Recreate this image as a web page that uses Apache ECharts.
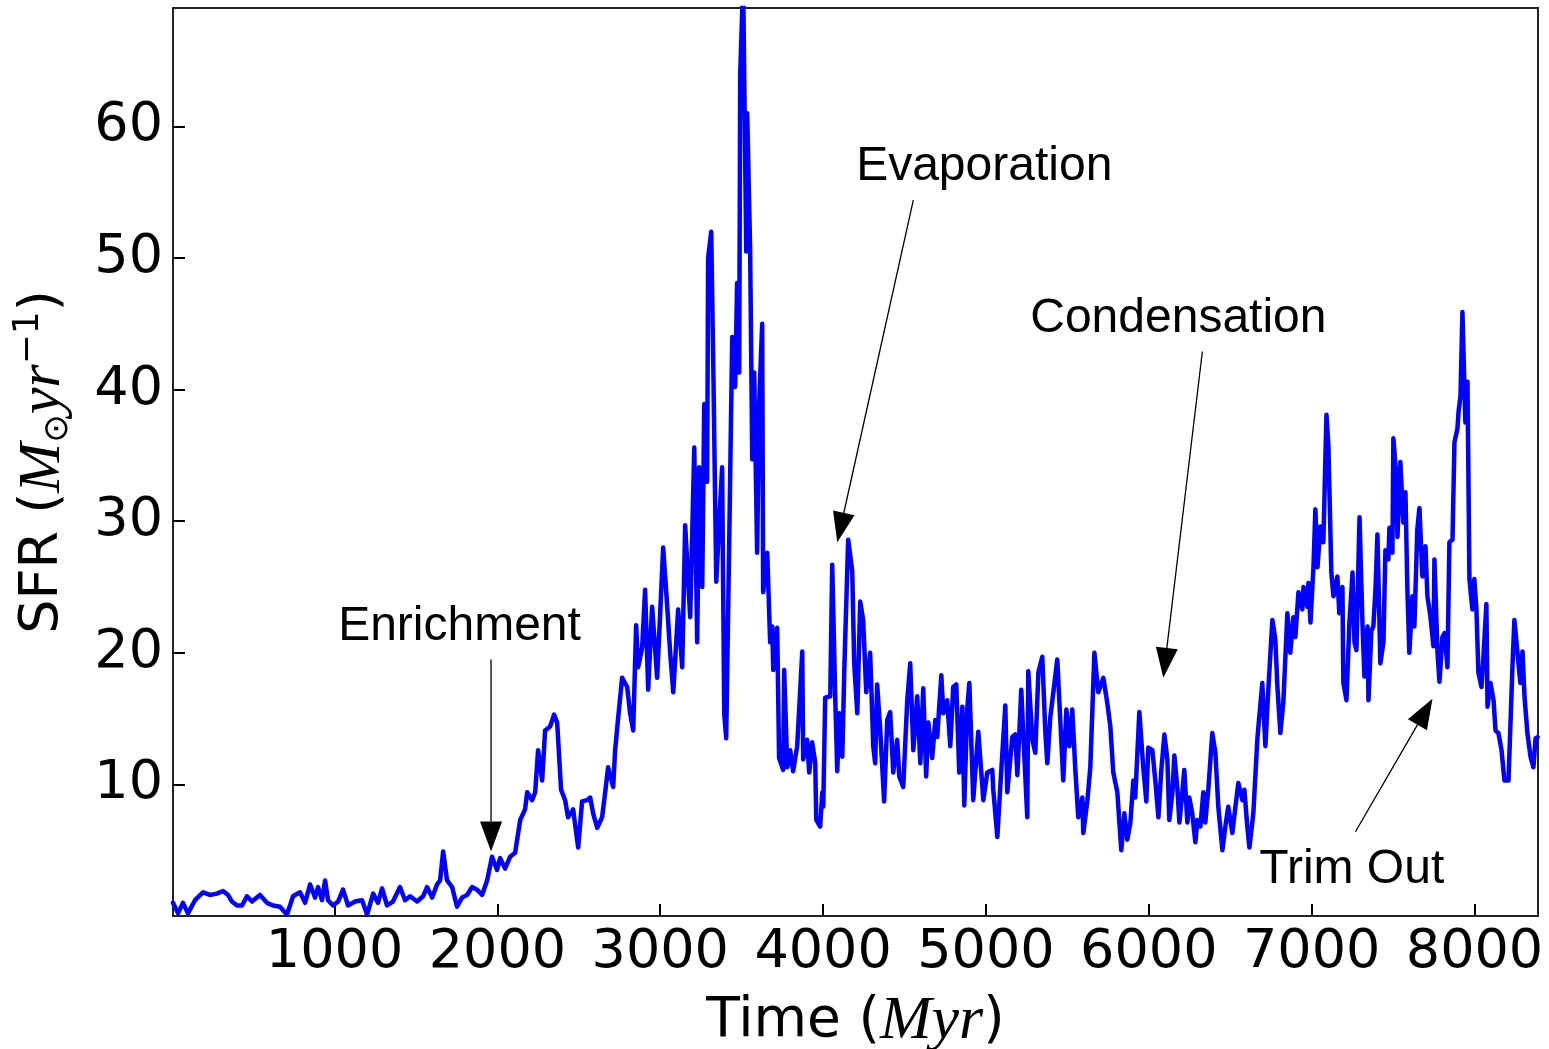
<!DOCTYPE html>
<html>
<head>
<meta charset="utf-8">
<script src="https://cdn.jsdelivr.net/npm/echarts@6/dist/echarts.min.js"></script>
<style>
html, body { margin: 0; padding: 0; background: #fff; }
#main { width: 1549px; height: 1049px; }
</style>
</head>
<body>
<div id="main"></div>
<script>
// 时间 (Myr)
var times = [8, 39, 69, 100, 143, 192, 235, 278, 315, 346, 370, 401, 432, 462, 493, 542, 585, 622, 665, 708,
  745, 788, 819, 850, 880, 899, 923, 942, 960, 991, 1022, 1052, 1083, 1126, 1169, 1200, 1237, 1267, 1292, 1322,
  1359, 1402, 1433, 1464, 1507, 1544, 1568, 1599, 1630, 1648, 1667, 1691, 1722, 1752, 1783, 1814, 1845, 1875, 1906, 1937,
  1967, 1998, 2017, 2047, 2078, 2109, 2140, 2170, 2183, 2213, 2232, 2250, 2275, 2293, 2324, 2348, 2367, 2391, 2416, 2434,
  2465, 2496, 2520, 2551, 2570, 2588, 2613, 2643, 2662, 2680, 2711, 2723, 2742, 2766, 2797, 2815, 2834, 2852, 2864, 2889,
  2907, 2926, 2950, 2981, 3000, 3018, 3043, 3061, 3080, 3110, 3135, 3153, 3184, 3209, 3227, 3239, 3258, 3270, 3288, 3294,
  3313, 3325, 3344, 3362, 3380, 3393, 3405, 3423, 3442, 3460, 3472, 3485, 3491, 3509, 3528, 3534, 3552, 3565, 3577, 3595,
  3608, 3626, 3632, 3657, 3675, 3688, 3694, 3718, 3730, 3755, 3761, 3780, 3798, 3816, 3841, 3853, 3872, 3878, 3902, 3915,
  3933, 3952, 3958, 3982, 3995, 4001, 4013, 4044, 4056, 4075, 4087, 4099, 4118, 4130, 4154, 4179, 4191, 4210, 4228, 4246,
  4265, 4289, 4308, 4320, 4332, 4351, 4375, 4394, 4412, 4431, 4455, 4468, 4492, 4517, 4535, 4554, 4578, 4597, 4615, 4633,
  4646, 4670, 4689, 4701, 4726, 4738, 4762, 4781, 4799, 4818, 4836, 4855, 4867, 4885, 4898, 4922, 4953, 4984, 5008, 5039,
  5045, 5070, 5088, 5119, 5131, 5162, 5180, 5193, 5217, 5229, 5254, 5260, 5285, 5303, 5322, 5346, 5365, 5377, 5395, 5414,
  5438, 5475, 5494, 5512, 5530, 5549, 5567, 5592, 5598, 5623, 5641, 5666, 5690, 5721, 5745, 5764, 5782, 5807, 5831, 5850,
  5868, 5887, 5905, 5917, 5930, 5942, 5966, 5985, 5997, 6022, 6040, 6059, 6077, 6096, 6114, 6126, 6145, 6157, 6175, 6188,
  6206, 6218, 6237, 6249, 6267, 6286, 6298, 6317, 6335, 6347, 6366, 6390, 6409, 6427, 6452, 6470, 6488, 6513, 6532, 6550,
  6575, 6587, 6605, 6618, 6642, 6667, 6697, 6716, 6734, 6759, 6777, 6790, 6808, 6826, 6851, 6869, 6888, 6900, 6919, 6943,
  6950, 6974, 6980, 6993, 7011, 7023, 7036, 7054, 7072, 7091, 7103, 7121, 7134, 7158, 7170, 7189, 7195, 7214, 7232, 7251,
  7263, 7275, 7294, 7312, 7324, 7343, 7349, 7367, 7379, 7392, 7404, 7422, 7441, 7453, 7471, 7478, 7496, 7502, 7520, 7527,
  7545, 7563, 7576, 7588, 7600, 7619, 7631, 7649, 7662, 7680, 7699, 7711, 7730, 7748, 7754, 7773, 7785, 7803, 7816, 7834,
  7846, 7865, 7877, 7895, 7902, 7914, 7926, 7944, 7957, 7969, 7987, 7999, 8012, 8024, 8043, 8055, 8073, 8080, 8098, 8117,
  8129, 8147, 8166, 8184, 8209, 8233, 8245, 8264, 8282, 8295, 8307, 8325, 8344, 8362, 8375, 8387];

// 恒星形成率 SFR
var sfr = [1.0, 0.2, 1.0, 0.2, 1.2, 1.8, 1.6, 1.7, 1.9, 1.6, 1.1, 0.8, 0.8, 1.5, 1.1, 1.6, 1.0, 0.8, 0.7, 0.1,
  1.5, 1.8, 1.0, 2.4, 1.4, 2.2, 1.2, 2.7, 1.2, 0.8, 1.1, 2.0, 0.8, 1.1, 1.2, 0.1, 1.7, 1.0, 2.1, 0.8,
  1.1, 2.2, 1.2, 1.5, 1.1, 1.5, 2.2, 1.4, 2.4, 2.7, 4.9, 2.7, 2.2, 0.7, 1.4, 1.6, 2.2, 2.0, 1.6, 2.7,
  4.5, 3.5, 4.4, 3.6, 4.5, 4.8, 7.3, 8.1, 9.4, 8.8, 9.4, 12.6, 10.3, 14.1, 14.4, 15.3, 14.7, 9.6, 8.8, 7.5,
  8.1, 5.2, 8.7, 8.8, 9.0, 7.8, 6.7, 7.5, 9.4, 11.3, 9.8, 12.6, 15.1, 18.1, 17.4, 15.4, 14.1, 22.1, 18.9, 20.4,
  24.8, 17.2, 23.5, 18.1, 23.1, 28.0, 23.5, 20.0, 17.0, 23.3, 18.9, 29.7, 22.7, 35.6, 20.8, 34.1, 25.0, 38.9, 33.0, 50.0,
  52.0, 42.4, 25.4, 29.9, 34.1, 15.4, 13.5, 28.0, 44.0, 40.2, 48.1, 41.3, 64.0, 71.0, 50.5, 61.0, 50.7, 34.7, 41.3, 27.6,
  39.1, 45.0, 24.6, 27.6, 20.8, 22.0, 18.7, 21.9, 12.0, 11.1, 18.7, 11.3, 12.6, 11.0, 12.9, 12.9, 20.1, 11.9, 13.4, 10.9,
  13.2, 11.6, 7.3, 6.8, 9.4, 8.3, 16.6, 16.7, 26.7, 16.4, 11.0, 15.4, 12.1, 18.6, 28.6, 26.2, 19.2, 15.4, 23.9, 22.5,
  17.0, 20.0, 12.9, 11.6, 17.6, 14.1, 8.7, 14.9, 15.5, 10.9, 13.4, 10.6, 9.8, 16.4, 19.2, 12.6, 16.7, 11.6, 17.3, 10.6,
  14.7, 12.0, 14.9, 13.6, 18.3, 15.4, 16.4, 12.9, 17.4, 17.6, 10.9, 15.9, 8.4, 15.7, 17.7, 8.8, 14.0, 8.8, 10.9, 11.1,
  9.6, 6.0, 9.8, 16.0, 9.4, 13.6, 13.8, 10.7, 17.2, 13.9, 7.5, 18.6, 13.4, 12.4, 18.5, 19.7, 13.9, 11.6, 15.1, 17.0,
  19.5, 10.3, 15.7, 12.9, 15.7, 11.1, 7.5, 9.0, 6.3, 8.8, 11.3, 20.0, 17.0, 18.1, 16.2, 14.4, 10.9, 9.4, 5.0, 7.8,
  5.8, 7.1, 10.3, 9.0, 12.4, 15.5, 11.3, 8.7, 12.8, 12.6, 10.3, 7.5, 11.1, 13.8, 11.9, 7.3, 9.4, 12.2, 9.8, 7.1,
  9.4, 11.1, 7.1, 9.0, 7.8, 5.6, 7.3, 6.8, 9.4, 7.1, 9.7, 13.9, 12.4, 8.3, 5.0, 6.8, 8.3, 6.3, 8.3, 10.1,
  8.8, 9.6, 6.8, 5.2, 7.8, 13.5, 17.7, 12.9, 17.2, 22.5, 21.0, 17.4, 13.9, 16.2, 23.0, 20.0, 22.7, 21.2, 24.6, 23.3,
  25.0, 23.5, 25.3, 22.3, 26.5, 30.9, 26.5, 29.6, 28.4, 38.1, 35.7, 26.1, 24.3, 25.8, 23.0, 25.0, 17.7, 16.4, 22.3, 26.1,
  20.8, 20.2, 30.3, 22.3, 18.2, 22.0, 16.4, 21.7, 22.0, 24.8, 29.0, 19.2, 20.8, 27.8, 27.1, 29.5, 27.6, 36.3, 33.4, 28.8,
  34.5, 29.9, 32.2, 24.8, 20.0, 24.3, 22.0, 29.4, 31.0, 25.8, 28.1, 24.3, 22.7, 20.5, 27.1, 20.0, 17.8, 21.2, 21.5, 18.9,
  28.4, 28.6, 36.0, 37.0, 38.3, 39.5, 45.9, 37.5, 40.6, 25.6, 23.3, 25.6, 23.3, 18.5, 17.4, 19.7, 23.7, 15.9, 17.7, 16.4,
  14.1, 13.9, 12.6, 10.3, 10.3, 18.9, 22.5, 20.0, 17.7, 20.1, 16.7, 13.9, 12.1, 11.3, 13.5, 13.6];

var xTicks = [1000, 2000, 3000, 4000, 5000, 6000, 7000, 8000];
var yTicks = [10, 20, 30, 40, 50, 60];

// 标注
var annoText = ['Enrichment', 'Evaporation', 'Condensation', 'Trim Out'];
var annoTextX = [1022, 4203, 5272, 6679];
var annoTextY = [22.0, 56.9, 45.4, 3.5];
var arrowFromX = [1961, 4554, 6329, 7269];
var arrowFromY = [19.5, 54.4, 42.9, 6.4];
var arrowToX = [1961, 4087, 6089, 7742];
var arrowToY = [4.9, 28.4, 18.1, 16.5];

var data = [];
for (var i = 0; i < times.length; i++) {
  data.push([times[i], sfr[i]]);
}

var myChart = echarts.init(document.getElementById('main'));

var option = {
  backgroundColor: '#fff',
  animation: false,
  grid: {
    left: 173, right: 11, top: 8, bottom: 133,
    show: true, borderColor: '#222', borderWidth: 2,
    containLabel: false, outerBoundsMode: 'none'
  },
  xAxis: {
    type: 'value',
    min: 8, max: 8390,
    name: 'Time ({i|Myr})',
    nameLocation: 'middle',
    nameGap: 74,
    nameTextStyle: {
      fontFamily: 'DejaVu Sans', fontSize: 55, color: '#000', lineHeight: 64,
      rich: { i: { fontFamily: 'Liberation Serif', fontStyle: 'italic', fontSize: 62, lineHeight: 64, color: '#000' } }
    },
    axisLine: { show: true, lineStyle: { color: '#222', width: 2 } },
    axisTick: { show: true, inside: true, length: 12, customValues: xTicks, lineStyle: { color: '#000', width: 2 } },
    axisLabel: {
      customValues: xTicks, fontFamily: 'DejaVu Sans', fontSize: 54, color: '#000', margin: 10,
      formatter: function (v) { return String(v); }
    },
    splitLine: { show: false }
  },
  yAxis: {
    type: 'value',
    min: 0, max: 69,
    name: 'SFR ({i|M}{sub|⊙}{i|yr}{sup|−1})',
    nameLocation: 'middle',
    nameRotate: 90,
    nameGap: 98,
    nameTextStyle: {
      fontFamily: 'DejaVu Sans', fontSize: 54, color: '#000', lineHeight: 64,
      rich: {
        i: { fontFamily: 'Liberation Serif', fontStyle: 'italic', fontSize: 60, lineHeight: 64, color: '#000' },
        sub: { fontFamily: 'DejaVu Sans', fontSize: 34, lineHeight: 30, verticalAlign: 'bottom', color: '#000' },
        sup: { fontFamily: 'DejaVu Sans', fontSize: 36, lineHeight: 30, verticalAlign: 'top', color: '#000' }
      }
    },
    axisLine: { show: true, lineStyle: { color: '#222', width: 2 } },
    axisTick: { show: true, inside: true, length: 12, customValues: yTicks, lineStyle: { color: '#000', width: 2 } },
    axisLabel: {
      customValues: yTicks, fontFamily: 'DejaVu Sans', fontSize: 54, color: '#000', margin: 10,
      formatter: function (v) { return String(v); }
    },
    splitLine: { show: false }
  },
  series: [{
    type: 'line',
    data: data,
    showSymbol: false,
    symbol: 'none',
    clip: true,
    lineStyle: { color: '#0000ff', width: 4.5, join: 'round', cap: 'round' },
    itemStyle: { color: '#0000ff' }
  }]
};

myChart.setOption(option);

// 箭头标注，用坐标系换算位置
var graphics = [];
for (var k = 0; k < annoText.length; k++) {
  var tp = myChart.convertToPixel({ gridIndex: 0 }, [annoTextX[k], annoTextY[k]]);
  var p0 = myChart.convertToPixel({ gridIndex: 0 }, [arrowFromX[k], arrowFromY[k]]);
  var p1 = myChart.convertToPixel({ gridIndex: 0 }, [arrowToX[k], arrowToY[k]]);
  var dx = p1[0] - p0[0], dy = p1[1] - p0[1];
  var len = Math.sqrt(dx * dx + dy * dy);
  var ux = dx / len, uy = dy / len;
  var headL = 30, headW = 11;
  var bx = p1[0] - ux * headL, by = p1[1] - uy * headL;
  graphics.push({
    type: 'text', z: 10,
    style: { text: annoText[k], x: tp[0], y: tp[1], font: '48px "Liberation Sans"', fill: '#000', align: 'left', verticalAlign: 'middle' }
  });
  graphics.push({
    type: 'line', z: 10,
    shape: { x1: p0[0], y1: p0[1], x2: bx, y2: by },
    style: { stroke: '#000', lineWidth: 1.3 }
  });
  graphics.push({
    type: 'polygon', z: 10,
    shape: { points: [[p1[0], p1[1]], [bx - uy * headW, by + ux * headW], [bx + uy * headW, by - ux * headW]] },
    style: { fill: '#000' }
  });
}
myChart.setOption({ graphic: graphics });
</script>
</body>
</html>
